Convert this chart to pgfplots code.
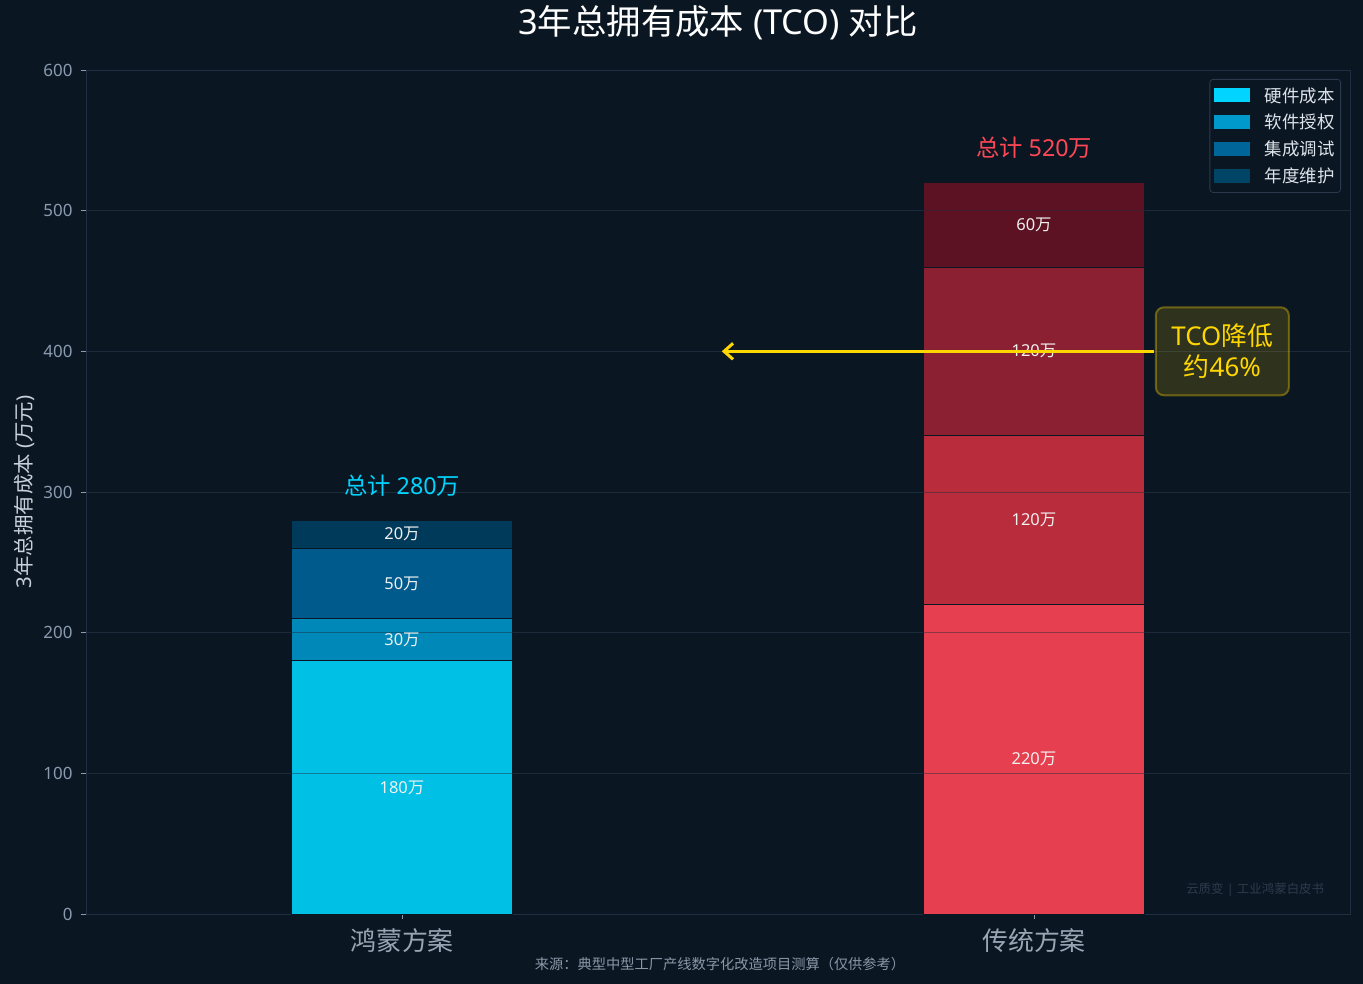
\documentclass[border=0pt]{standalone}
\usepackage{fontspec}
\setmainfont{Noto Sans CJK SC}
\newfontfamily\lat{Noto Sans}
\usepackage{pgfplots}
\pgfplotsset{compat=1.18}
\usetikzlibrary{arrows.meta}
\definecolor{bg}{HTML}{0B1623}
\definecolor{spine}{HTML}{1F2F41}
\definecolor{gridc}{HTML}{1C2B3C}
\definecolor{tickc}{HTML}{8A9BB0}
\definecolor{xtickc}{HTML}{9AA6B4}
\definecolor{ylabc}{HTML}{C8D0DA}
\definecolor{legtext}{HTML}{DDE3EA}
\definecolor{legborder}{HTML}{2A3A4C}
\definecolor{segtext}{HTML}{F0F0F0}
\definecolor{bA}{HTML}{00C0E6}
\definecolor{bB}{HTML}{0089B8}
\definecolor{bC}{HTML}{005A8C}
\definecolor{bD}{HTML}{003A5A}
\definecolor{lA}{HTML}{00D4FF}
\definecolor{lB}{HTML}{0099CC}
\definecolor{lC}{HTML}{006699}
\definecolor{lD}{HTML}{004466}
\definecolor{rA}{HTML}{E64050}
\definecolor{rB}{HTML}{B92C3C}
\definecolor{rC}{HTML}{8B2032}
\definecolor{rD}{HTML}{5C1222}
\definecolor{cyanT}{HTML}{00D4FF}
\definecolor{redT}{HTML}{FF4757}
\definecolor{gold}{HTML}{FFD700}
\definecolor{wmark}{HTML}{2C3B4C}
\definecolor{srcc}{HTML}{8A97A6}
\begin{document}
\begin{tikzpicture}
\fill[bg] (-86bp,-70bp) rectangle (1277bp,914bp);
\begin{axis}[
  at={(0,0)}, anchor=south west,
  scale only axis, width=1264bp, height=844bp,
  xmin=-0.5, xmax=1.5, ymin=0, ymax=600,
  ybar stacked, bar width=0.35,
  xtick={0,1}, xticklabels={鸿蒙方案,传统方案},
  ytick={0,100,200,300,400,500,600},
  xtick pos=bottom, ytick pos=left,
  tick align=outside, major tick length=5bp,
  tick style={draw=tickc, line width=0.8bp},
  axis line style={draw=spine, line width=0.8bp},
  ymajorgrids,
  grid style={draw=gridc, line width=0.8bp},
  /pgf/number format/assume math mode=true,
  yticklabel style={font=\lat\fontsize{17}{17}\selectfont, text=tickc, xshift=-5bp},
  xticklabel style={font=\fontsize{26}{26}\selectfont, text=xtickc, yshift=-6bp},
  title={{\lat 3}年总拥有成本{\lat\ (TCO) }对比},
  title style={at={(0.5,1)}, anchor=center, yshift=41bp, font=\fontsize{34.5}{34.5}\selectfont, text=white},
  ylabel={{\lat 3}年总拥有成本{\lat\ (}万元{\lat )}},
  ylabel style={at={(axis description cs:-0.04826,0.5)}, anchor=center, font=\fontsize{20.5}{20.5}\selectfont, text=ylabc},
  xlabel={来源：典型中型工厂产线数字化改造项目测算（仅供参考）},
  xlabel style={at={(axis description cs:0.5016,0)}, anchor=center, yshift=-50bp, font=\fontsize{14.3}{14.3}\selectfont, text=srcc},
  legend cell align=left,
  legend image code/.code={\fill[#1, sharp corners] (0bp,-7bp) rectangle (36bp,7bp);},
  legend style={at={(axis description cs:1,1)}, anchor=north east, xshift=-9bp, yshift=-9bp,
    fill=bg, draw=legborder, line width=0.8bp, rounded corners=3bp, text=legtext,
    font=\fontsize{17.5}{17.5}\selectfont, inner xsep=4bp, inner ysep=6bp,
    row sep=6.8bp,
    /tikz/every odd column/.append style={column sep=13bp}},
]
\addplot[fill=bA, draw=bg, line width=0.8bp, forget plot] coordinates {(0,180) (1,0)};
\addplot[fill=bB, draw=bg, line width=0.8bp, forget plot] coordinates {(0,30) (1,0)};
\addplot[fill=bC, draw=bg, line width=0.8bp, forget plot] coordinates {(0,50) (1,0)};
\addplot[fill=bD, draw=bg, line width=0.8bp, forget plot] coordinates {(0,20) (1,0)};
\addplot[fill=rA, draw=bg, line width=0.8bp, forget plot] coordinates {(0,0) (1,220)};
\addplot[fill=rB, draw=bg, line width=0.8bp, forget plot] coordinates {(0,0) (1,120)};
\addplot[fill=rC, draw=bg, line width=0.8bp, forget plot] coordinates {(0,0) (1,120)};
\addplot[fill=rD, draw=bg, line width=0.8bp, forget plot] coordinates {(0,0) (1,60)};
\addlegendimage{fill=lA, draw=none}
\addlegendentry{硬件成本}
\addlegendimage{fill=lB, draw=none}
\addlegendentry{软件授权}
\addlegendimage{fill=lC, draw=none}
\addlegendentry{集成调试}
\addlegendimage{fill=lD, draw=none}
\addlegendentry{年度维护}
\coordinate (gA1) at (axis cs:-0.175,100); \coordinate (gA2) at (axis cs:0.175,100);
\coordinate (gB1) at (axis cs:-0.175,200); \coordinate (gB2) at (axis cs:0.175,200);
\coordinate (gC1) at (axis cs:0.825,100); \coordinate (gC2) at (axis cs:1.175,100);
\coordinate (gD1) at (axis cs:0.825,200); \coordinate (gD2) at (axis cs:1.175,200);
\coordinate (gE1) at (axis cs:0.825,300); \coordinate (gE2) at (axis cs:1.175,300);
\coordinate (gF1) at (axis cs:0.825,400); \coordinate (gF2) at (axis cs:1.175,400);
\coordinate (gG1) at (axis cs:0.825,500); \coordinate (gG2) at (axis cs:1.175,500);
\coordinate (s1) at (axis cs:0,90);
\coordinate (s2) at (axis cs:0,195);
\coordinate (s3) at (axis cs:0,235);
\coordinate (s4) at (axis cs:0,270);
\coordinate (t1) at (axis cs:1,110);
\coordinate (t2) at (axis cs:1,280);
\coordinate (t3) at (axis cs:1,400);
\coordinate (t4) at (axis cs:1,490);
\coordinate (tot1) at (axis cs:0,304.3);
\coordinate (tot2) at (axis cs:1,544.5);
\coordinate (arS) at (axis cs:1.19,400);
\coordinate (arE) at (axis cs:0.506,400);
\coordinate (box) at (axis cs:1.298,400);
\coordinate (wm) at (axis description cs:0.925,0.0284);
\end{axis}
\foreach \p in {gA,gB,gC,gD,gE,gF,gG}{\draw[gridc, line width=0.8bp, opacity=0.45] (\p1) -- (\p2);}
\begin{scope}[every node/.style={font=\lat\fontsize{16.5}{16.5}\selectfont, text=segtext}]
\node at (s1) {180{\rmfamily 万}};
\node at (s2) {30{\rmfamily 万}};
\node at (s3) {50{\rmfamily 万}};
\node at (s4) {20{\rmfamily 万}};
\node at (t1) {220{\rmfamily 万}};
\node at (t2) {120{\rmfamily 万}};
\node at (t4) {60{\rmfamily 万}};
\node at (t3) {120{\rmfamily 万}};
\end{scope}
\node[font=\fontsize{23.4}{23.4}\selectfont, text=cyanT] at (tot1) {总计{\lat\ 280}万};
\node[font=\fontsize{23.4}{23.4}\selectfont, text=redT] at (tot2) {总计{\lat\ 520}万};
\draw[gold, line width=3bp, -{Straight Barb[length=9bp,width=16bp]}] (arS) -- (arE);
\node[fill=gold, fill opacity=0.15, draw=gold, draw opacity=0.35, line width=2bp, rounded corners=8bp,
  minimum width=133bp, minimum height=88bp, text opacity=1, text=gold, align=center,
  font=\fontsize{26}{31}\selectfont] at (box) {{\lat TCO}降低\\约{\lat 46\%}};
\node[font=\fontsize{12.5}{12.5}\selectfont, text=wmark] at (wm) {云质变{\lat\ |\ }工业鸿蒙白皮书};
\pgfresetboundingbox
\useasboundingbox (-86bp,-70bp) rectangle (1277bp,914bp);
\end{tikzpicture}
\end{document}
